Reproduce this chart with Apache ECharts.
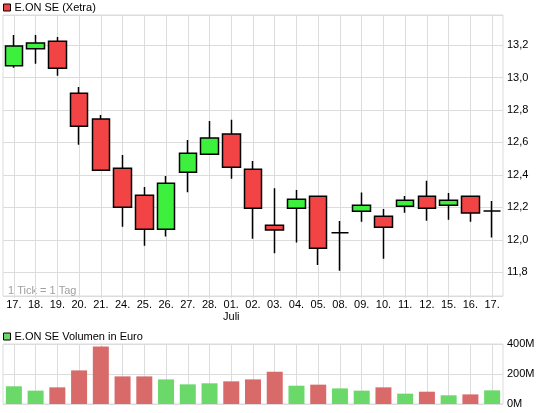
<!DOCTYPE html>
<html>
<head>
<meta charset="utf-8">
<script src="https://cdn.jsdelivr.net/npm/echarts@6/dist/echarts.min.js"></script>
<style>
html,body{margin:0;padding:0;background:#fff;}
#c{width:545px;height:413px;}
</style>
</head>
<body>
<div id="c"></div>
<script>
// ---- data ----
const days = ['17.','18.','19.','20.','21.','24.','25.','26.','27.','28.','01.','02.','03.','04.','05.','08.','09.','10.','11.','12.','15.','16.','17.'];
const monthIndex = 10;
const monthName = 'Juli';
const openP  = [13.073,13.177,13.223,12.903,12.744,12.441,12.274,12.065,12.416,12.527,12.652,12.435,12.090,12.194,12.268,12.044,12.176,12.145,12.207,12.268,12.213,12.268,12.178];
const closeP = [13.194,13.212,13.057,12.699,12.428,12.201,12.065,12.348,12.533,12.627,12.447,12.194,12.061,12.250,11.948,12.044,12.213,12.077,12.244,12.194,12.244,12.166,12.178];
const lowP   = [13.060,13.085,13.011,12.586,12.428,12.081,11.964,12.020,12.293,12.527,12.377,12.007,11.917,11.983,11.845,11.810,12.112,11.884,12.167,12.118,12.124,12.112,12.014];
const highP  = [13.262,13.262,13.249,12.941,12.769,12.523,12.326,12.393,12.615,12.732,12.740,12.486,12.318,12.307,12.268,12.116,12.291,12.190,12.270,12.364,12.289,12.268,12.239];
const volumeM = [118,89,111,224,384,184,184,164,131,138,151,164,215,122,129,104,89,111,69,82,58,64,91];
const priceTicks = {min: 11.654, max: 13.385};
const volumeTicks = {min: 0, max: 400, interval: 200};

const UP = '#3ef03e', DOWN = '#f24444';
const VUP = '#6ad96a', VDOWN = '#d96a6a';
const GRIDC = '#dcdcdc';
const FONT = 'Liberation Sans, Arial, sans-serif';

const candleData = days.map((d, i) => [openP[i], closeP[i], lowP[i], highP[i]]);
const volData = volumeM.map((v, i) => ({
  value: v,
  itemStyle: {color: closeP[i] >= openP[i] ? VUP : VDOWN}
}));

const chart = echarts.init(document.getElementById('c'), null, {renderer: 'canvas'});
chart.setOption({
  animation: false,
  backgroundColor: '#fff',
  textStyle: {fontFamily: FONT},
  legend: [
    {
      left: 1, top: 0, itemWidth: 7, itemHeight: 7, itemGap: 4,
      icon: 'rect', padding: [2, 2, 2, 2],
      textStyle: {fontSize: 11, color: '#000', fontFamily: FONT, padding: [0, 0, 0, -1]},
      selectedMode: false,
      data: [{name: 'E.ON SE (Xetra)', itemStyle: {color: DOWN, borderColor: '#000', borderWidth: 1}}]
    },
    {
      left: 1, top: 329, itemWidth: 7, itemHeight: 7, itemGap: 4,
      icon: 'rect', padding: [2, 2, 2, 2],
      textStyle: {fontSize: 11, color: '#000', fontFamily: FONT, padding: [0, 0, 0, -1]},
      selectedMode: false,
      data: [{name: 'E.ON SE Volumen in Euro', itemStyle: {color: VUP, borderColor: '#000', borderWidth: 1}}]
    }
  ],
  grid: [
    {left: 3, right: 42, top: 15, bottom: 117, show: true, borderColor: GRIDC, borderWidth: 1, backgroundColor: '#fff'},
    {left: 3, right: 42, top: 344, bottom: 9, show: true, borderColor: GRIDC, borderWidth: 1, backgroundColor: '#fff'}
  ],
  xAxis: [
    {
      type: 'category', gridIndex: 0, data: days, boundaryGap: true,
      axisLine: {show: false},
      axisTick: {show: true, alignWithLabel: true, length: 2, lineStyle: {color: GRIDC}},
      splitLine: {show: true, alignWithLabel: true, lineStyle: {color: GRIDC, width: 1}},
      axisLabel: {
        interval: 0, fontSize: 11, color: '#000', margin: 3, lineHeight: 12, fontFamily: FONT,
        formatter: (v, i) => i === monthIndex ? v + '\n' + monthName : v
      }
    },
    {
      type: 'category', gridIndex: 1, data: days, boundaryGap: true,
      axisLine: {show: false},
      axisTick: {show: false},
      splitLine: {show: true, alignWithLabel: true, lineStyle: {color: GRIDC, width: 1}},
      axisLabel: {show: false}
    }
  ],
  yAxis: [
    {
      type: 'value', gridIndex: 0, position: 'right', scale: true,
      min: priceTicks.min, max: priceTicks.max, splitNumber: 8,
      axisLine: {show: false}, axisTick: {show: false},
      splitLine: {show: true, lineStyle: {color: GRIDC, width: 1}},
      axisLabel: {
        fontSize: 11, color: '#000', margin: 4, fontFamily: FONT,
        showMinLabel: false, showMaxLabel: false,
        formatter: v => v.toFixed(1).replace('.', ',')
      }
    },
    {
      type: 'value', gridIndex: 1, position: 'right',
      min: volumeTicks.min, max: volumeTicks.max, interval: volumeTicks.interval,
      axisLine: {show: false}, axisTick: {show: false},
      splitLine: {show: true, lineStyle: {color: GRIDC, width: 1}},
      axisLabel: {
        fontSize: 11, color: '#000', margin: 4, fontFamily: FONT,
        formatter: v => v + 'M'
      }
    }
  ],
  series: [
    {
      name: 'E.ON SE (Xetra)', type: 'candlestick', xAxisIndex: 0, yAxisIndex: 0,
      barWidth: 18,
      data: candleData,
      itemStyle: {
        color: UP, color0: DOWN,
        borderColor: '#000', borderColor0: '#000', borderColorDoji: '#000',
        borderWidth: 1.5
      }
    },
    {
      name: 'E.ON SE Volumen in Euro', type: 'bar', xAxisIndex: 1, yAxisIndex: 1,
      barWidth: 16,
      data: volData,
      itemStyle: {color: VUP}
    }
  ],
  graphic: [
    {type: 'text', left: 8, top: 285, style: {text: '1 Tick = 1 Tag', fill: '#a0a0a0', font: '11px ' + FONT}}
  ]
});
</script>
</body>
</html>
